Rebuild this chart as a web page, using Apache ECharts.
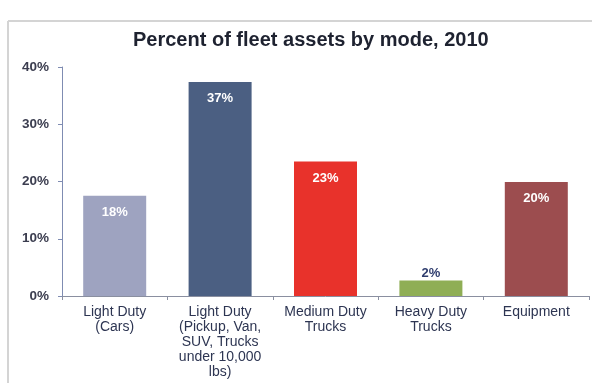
<!DOCTYPE html>
<html>
<head>
<meta charset="utf-8">
<script src="https://cdn.jsdelivr.net/npm/echarts@6/dist/echarts.min.js"></script>
<style>html,body{margin:0;padding:0;background:#fff;}#c{width:597px;height:383px;}</style>
</head>
<body>
<div id="c"></div>
<script>
const categories = ["Light Duty\n(Cars)", "Light Duty\n(Pickup, Van,\nSUV, Trucks\nunder 10,000\nlbs)", "Medium Duty\nTrucks", "Heavy Duty\nTrucks", "Equipment"];
const values = [17.5, 37.4, 23.5, 2.7, 19.9];
const valueLabels = ["18%", "37%", "23%", "2%", "20%"];
const barColors = ["#9ea3c0", "#4b5f82", "#e8322b", "#8fae55", "#9c4d4f"];
const yTicks = [0, 10, 20, 30, 40];

const chart = echarts.init(document.getElementById('c'));
chart.setOption({
  backgroundColor: '#ffffff',
  animation: false,
  title: {
    text: 'Percent of fleet assets by mode, 2010',
    left: 128, top: 25,
    textStyle: {fontFamily: 'Liberation Sans, Arial, sans-serif', fontSize: 20, fontWeight: 'bold', color: '#1e2230'}
  },
  graphic: [
    {type: 'line', shape: {x1: 8, y1: 21, x2: 592, y2: 21}, style: {stroke: '#d4d4d4', lineWidth: 2}},
    {type: 'line', shape: {x1: 8, y1: 21, x2: 8, y2: 383}, style: {stroke: '#d4d4d4', lineWidth: 2}}
  ],
  grid: {left: 62, right: 8, top: 67, bottom: 87, containLabel: false},
  xAxis: {
    type: 'category',
    data: categories,
    boundaryGap: true,
    axisLine: {lineStyle: {color: '#8a8fa0', width: 1}},
    axisTick: {show: true, alignWithLabel: false, length: 4, lineStyle: {color: '#8a8fa0'}},
    axisLabel: {
      interval: 0, margin: 9,
      fontFamily: 'Liberation Sans, Arial, sans-serif', fontSize: 14, lineHeight: 15,
      color: '#2d3552'
    }
  },
  yAxis: {
    type: 'value', min: 0, max: 40, interval: 10,
    axisLine: {show: true, lineStyle: {color: '#7f8cb2', width: 1}},
    axisTick: {show: true, length: 4, lineStyle: {color: '#7f8cb2'}},
    splitLine: {show: false},
    axisLabel: {
      formatter: function (v) { return yTicks.indexOf(v) >= 0 ? v + '%' : ''; },
      margin: 13,
      fontFamily: 'Liberation Sans, Arial, sans-serif', fontSize: 13.5, fontWeight: 'bold',
      color: '#3b3d4f'
    }
  },
  series: [{
    type: 'bar',
    data: values.map(function (v, i) {
      const small = v < 5;
      return {
        value: v,
        itemStyle: {color: barColors[i]},
        label: {
          show: true,
          position: small ? 'top' : 'insideTop',
          distance: small ? 1 : 10,
          formatter: valueLabels[i],
          color: small ? '#2f3d6e' : '#ffffff',
          fontFamily: 'Liberation Sans, Arial, sans-serif',
          fontSize: 13, fontWeight: 'bold'
        }
      };
    }),
    barWidth: 63
  }]
});
</script>
</body>
</html>
